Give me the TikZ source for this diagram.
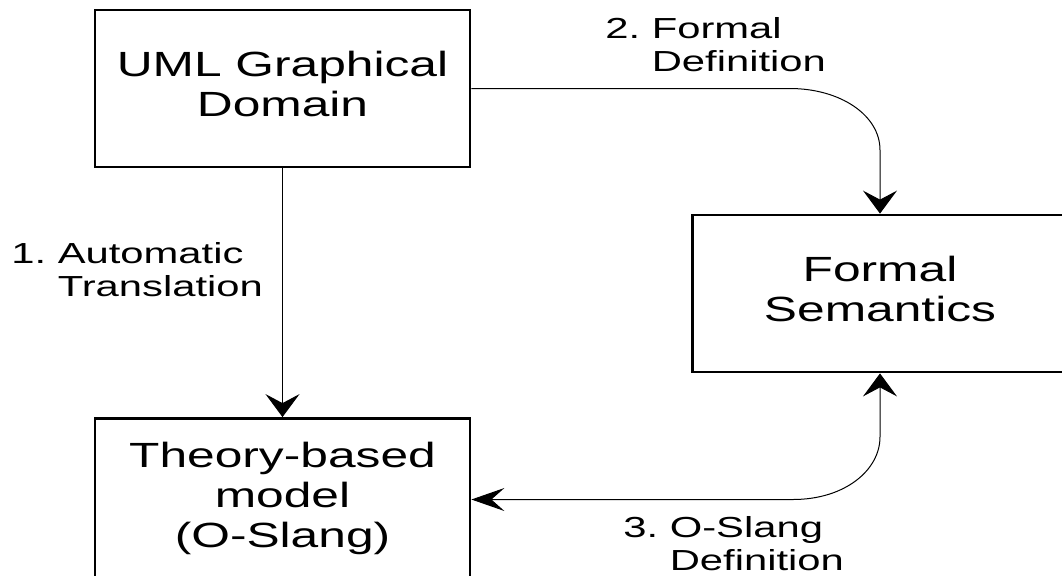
\documentclass[tikz,border=0pt]{standalone}
\usepackage{fontspec}
\setmainfont{Liberation Sans}
\usepackage{graphicx}
\usetikzlibrary{ % tikz packages
    arrows.meta
}
\newcommand{\boxtext}[1]{\scalebox{1.42}[1]{\fontsize{17.5}{20}\selectfont
    \begin{tabular}{@{}c@{}}#1\end{tabular}}}
\newcommand{\steplabel}[3]{\scalebox{1.44}[1]{\fontsize{14.5}{16.5}\selectfont
    \begin{tabular}[t]{@{}l@{\ }l@{}}#1. & #2\\ & #3\end{tabular}}}
\tikzset{box/.style={
    draw,
    line width=1.4pt,
    minimum width=187.5pt,
    minimum height=78.5pt,
    inner sep=0pt
}}
\tikzset{
    link/.style={line width=0.5pt},
    steptext/.style={anchor=base west, inner sep=0pt},
    vtip/.tip={Stealth[length=11.5pt,width=17pt,inset=4.5pt]},
    htip/.tip={Stealth[length=16.5pt,width=11.5pt,inset=6.5pt]}
}

\begin{document}
\begin{tikzpicture}[x=0.5pt,y=-0.5pt]
            \useasboundingbox (0,0) rectangle (1062,575);

            \node[box] (uml) at (282.5,88.5) {\boxtext{UML Graphical\\Domain}};
            \node[box] (sem) at (880,293.5) {\boxtext{Formal\\Semantics}};
            \node[box, minimum height=81pt] (theory) at (282.5,499.5)
                {\boxtext{Theory-based\\model\\(O-Slang)}};

            \node[steptext] (lbltrans) at (11,263) {\steplabel{1}{Automatic}{Translation}};
            \node[steptext] (lbldef) at (605,38) {\steplabel{2}{Formal}{Definition}};
            \node[steptext] (lblslang) at (623,537) {\steplabel{3}{O-Slang}{Definition}};

            \draw[link,-vtip] (uml) -- (theory);
            \draw[link,-vtip] (uml.east) -- (790,88.5)
                .. controls (840,88.5) and (880,115) .. (880,150) -- (sem.north);
            \draw[link,htip-vtip] (theory.east) -- (793,499.5)
                .. controls (845,499.5) and (880,470) .. (880,437) -- (sem.south);
        \end{tikzpicture}
\end{document}
